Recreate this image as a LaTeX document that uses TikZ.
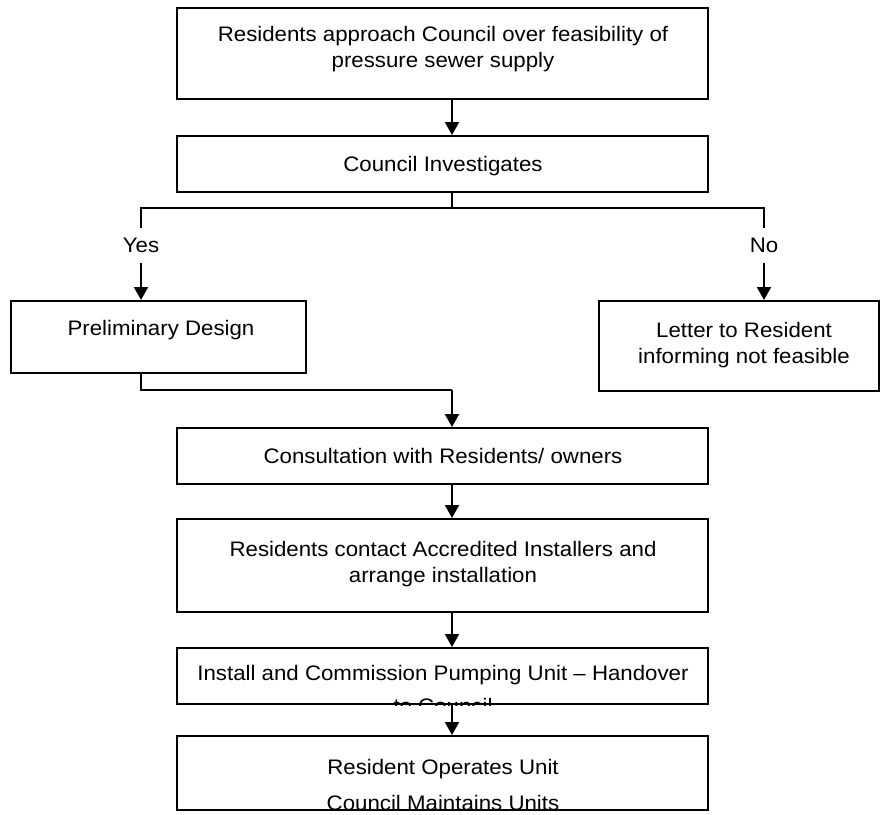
\documentclass[tikz,border=0pt]{standalone}
\usepackage{fontspec}
\setmainfont{Liberation Sans}[FakeStretch=1.06]
\usetikzlibrary{arrows.meta}
\begin{document}
\begin{tikzpicture}[x=1pt,y=-1pt,
  box/.style={draw, line width=2pt, inner sep=0pt, anchor=north west},
  txt/.style={inner sep=0pt, align=center, font=\fontsize{21}{26}\selectfont, anchor=base},
  conn/.style={line width=2pt},
  arr/.style={conn, -{Triangle[length=13pt,width=14pt]}}]
\useasboundingbox (0,0) rectangle (880,814);
\coordinate (ax) at (452,0);
% boxes (multi-line texts are anchored at the baseline of their last line)
\node[box, minimum width=531pt, minimum height=91pt] (b1) at (176,7) {};
\node[txt] (t1) at (443,67) {Residents approach Council over feasibility of\\pressure sewer supply};
\node[box, minimum width=531pt, minimum height=56pt] (b2) at (176,135) {};
\node[txt] (t2) at (443,171) {Council Investigates};
\node[box, minimum width=295pt, minimum height=72pt] (pre) at (10,300) {};
\node[txt] (tpre) at (161,335) {Preliminary Design};
\node[box, minimum width=280pt, minimum height=90pt] (let) at (598,300) {};
\node[txt] (tlet) at (744,363) {Letter to Resident\\informing not feasible};
\node[box, minimum width=531pt, minimum height=56pt] (con) at (176,427) {};
\node[txt] (tcon) at (443,463) {Consultation with Residents/ owners};
\node[box, minimum width=531pt, minimum height=93pt] (ctc) at (176,518) {};
\node[txt] (tctc) at (443,582) {Residents contact Accredited Installers and\\arrange installation};
\node[box, minimum width=531pt, minimum height=56pt] (ins) at (176,647) {};
\begin{scope}
\clip (ins.north west) rectangle (ins.south east);
\node[txt, font=\fontsize{21}{33}\selectfont] (tins) at (443,713) {Install and Commission Pumping Unit -- Handover\\to Council};
\end{scope}
\node[box, minimum width=531pt, minimum height=74pt] (ro) at (176,735) {};
\node[txt] (tro) at (443,774) {Resident Operates Unit};
\begin{scope}
\clip (ro.north west) rectangle (ro.south east);
\node[txt] (tro2) at (443,810) {Council Maintains Units};
\end{scope}
% branch labels
\node[txt, anchor=center, minimum height=35pt] (yes) at (141,245.5) {Yes};
\node[txt, anchor=center, minimum height=35pt] (no) at (764,245.5) {No};
% connectors
\coordinate (split) at (452,208);
\coordinate (merge) at (452,390);
\draw[arr] (b1.south -| ax) -- (b2.north -| ax);
\draw[conn] (b2.south -| ax) -- (split);
\draw[conn] (split) -| (yes.north);
\draw[conn] (split) -| (no.north);
\draw[arr] (yes.south) -- (pre.north -| yes.south);
\draw[arr] (no.south) -- (let.north -| no.south);
\draw[conn] (pre.south -| yes.south) |- (merge);
\draw[arr] (merge) -- (con.north -| merge);
\draw[arr] (con.south -| ax) -- (ctc.north -| ax);
\draw[arr] (ctc.south -| ax) -- (ins.north -| ax);
\draw[arr] (ins.south -| ax) -- (ro.north -| ax);
\end{tikzpicture}
\end{document}
